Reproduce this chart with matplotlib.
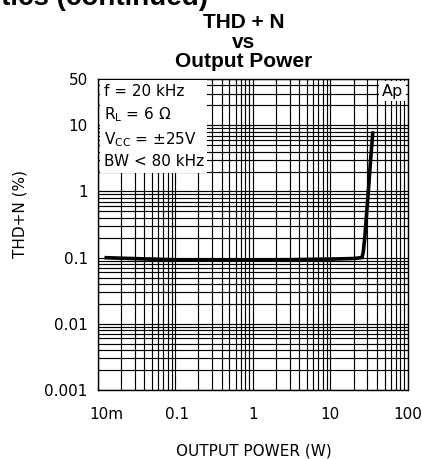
import matplotlib.pyplot as plt
from matplotlib.transforms import ScaledTranslation

power = [0.0123, 0.02, 0.05, 0.13, 0.3, 1, 3, 10, 20, 25.5, 26.5, 27.9, 30.8, 33, 35.3]
thd = [0.1, 0.098, 0.095, 0.092, 0.092, 0.092, 0.093, 0.095, 0.097, 0.1, 0.12, 0.215, 1.0, 3.0, 8.1]

xticks = [0.01, 0.1, 1, 10, 100]
xtick_labels = ['10m', '0.1', '1', '10', '100']
yticks = [0.001, 0.01, 0.1, 1, 10, 50]
ytick_labels = ['0.001', '0.01', '0.1', '1', '10', '50']

conditions = 'f = 20 kHz\n$R_L$ = 6 Ω\n$V_{CC}$ = ±25V\nBW < 80 kHz'

plt.rcParams['mathtext.default'] = 'regular'
fig = plt.figure(figsize=(4.22, 4.59), dpi=100)
ax = fig.add_axes([97.5 / 422, 69 / 459, 310.5 / 422, 311 / 459])

ax.plot(power, thd, color='black', linewidth=2.6, solid_capstyle='butt', zorder=3)
ax.set_xscale('log')
ax.set_yscale('log')
ax.set_xlim(0.01, 100)
ax.set_ylim(0.001, 50)

ax.grid(True, which='both', color='black', linewidth=0.85)
ax.set_axisbelow(True)
ax.set_xticks(xticks)
ax.set_xticklabels(xtick_labels)
ax.set_yticks(yticks)
ax.set_yticklabels(ytick_labels)
ax.tick_params(which='both', length=0, labelsize=11)
ax.tick_params(axis='x', pad=12)
ax.tick_params(axis='y', pad=7)
for spine in ax.spines.values():
    spine.set_linewidth(1.0)

# first x labels sit a little right of their ticks
lbl = ax.get_xticklabels()[0]
lbl.set_transform(lbl.get_transform() + ScaledTranslation(9 / 100, 0, fig.dpi_scale_trans))
lbl = ax.get_xticklabels()[1]
lbl.set_transform(lbl.get_transform() + ScaledTranslation(2 / 100, 0, fig.dpi_scale_trans))

ax.text(0.02, 0.985, conditions, transform=ax.transAxes, ha='left', va='top',
        fontsize=11, linespacing=1.45, zorder=5,
        bbox=dict(facecolor='white', edgecolor='none', pad=2.5))
ax.text(0.985, 0.985, 'Ap', transform=ax.transAxes, ha='right', va='top',
        fontsize=11.5, zorder=5,
        bbox=dict(facecolor='white', edgecolor='none', pad=2))

fig.text(254 / 422, 1 - 451 / 459, 'OUTPUT POWER (W)', ha='center', va='center', fontsize=11)
fig.text(20 / 422, 1 - 214 / 459, 'THD+N (%)', ha='center', va='center',
         rotation=90, fontsize=11)

fig.text(244 / 422, 1 - 42 / 459, 'THD + N\nvs\nOutput Power', ha='center', va='center',
         fontsize=15, fontweight='bold', family='Liberation Sans', linespacing=1.05)
fig.text(208 / 422, 1 - 5 / 459, 'Typical Performance Characteristics (continued)',
         ha='right', va='baseline', fontsize=20, fontweight='bold', family='Liberation Sans')

fig.savefig('out.png', dpi=100)
